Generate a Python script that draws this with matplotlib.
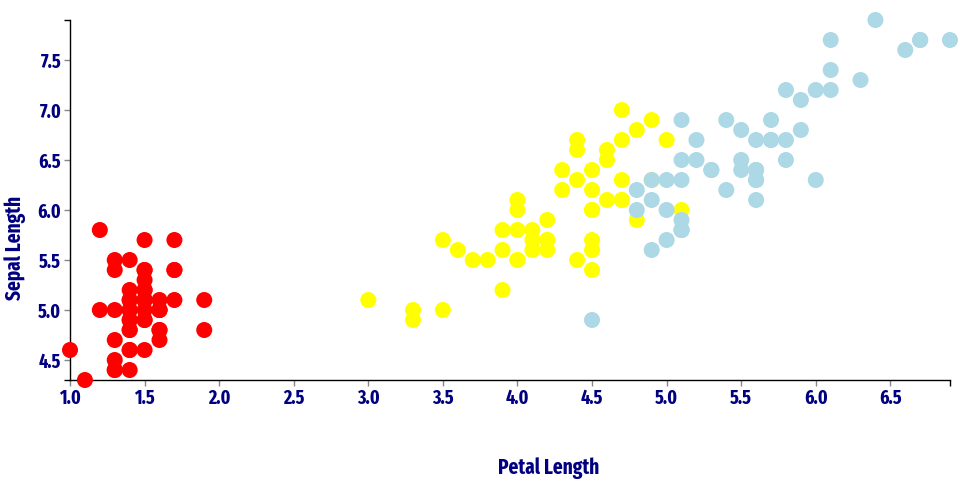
import matplotlib
matplotlib.use('Agg')
import matplotlib.pyplot as plt
import numpy as np

# iris: petal length (x) vs sepal length (y), one list per species
setosa_petal = [1.4, 1.4, 1.3, 1.5, 1.4, 1.7, 1.4, 1.5, 1.4, 1.5,
                1.5, 1.6, 1.4, 1.1, 1.2, 1.5, 1.3, 1.4, 1.7, 1.5,
                1.7, 1.5, 1.0, 1.7, 1.9, 1.6, 1.6, 1.5, 1.4, 1.6,
                1.6, 1.5, 1.5, 1.4, 1.5, 1.2, 1.3, 1.4, 1.3, 1.5,
                1.3, 1.3, 1.3, 1.6, 1.9, 1.4, 1.6, 1.4, 1.5, 1.4]
setosa_sepal = [5.1, 4.9, 4.7, 4.6, 5.0, 5.4, 4.6, 5.0, 4.4, 4.9,
                5.4, 4.8, 4.8, 4.3, 5.8, 5.7, 5.4, 5.1, 5.7, 5.1,
                5.4, 5.1, 4.6, 5.1, 4.8, 5.0, 5.0, 5.2, 5.2, 4.7,
                4.8, 5.4, 5.2, 5.5, 4.9, 5.0, 5.5, 4.9, 4.4, 5.1,
                5.0, 4.5, 4.4, 5.0, 5.1, 4.8, 5.1, 4.6, 5.3, 5.0]

versicolor_petal = [4.7, 4.5, 4.9, 4.0, 4.6, 4.5, 4.7, 3.3, 4.6, 3.9,
                    3.5, 4.2, 4.0, 4.7, 3.6, 4.4, 4.5, 4.1, 4.5, 3.9,
                    4.8, 4.0, 4.9, 4.7, 4.3, 4.4, 4.8, 5.0, 4.5, 3.5,
                    3.8, 3.7, 3.9, 5.1, 4.5, 4.5, 4.7, 4.4, 4.1, 4.0,
                    4.4, 4.6, 4.0, 3.3, 4.2, 4.2, 4.2, 4.3, 3.0, 4.1]
versicolor_sepal = [7.0, 6.4, 6.9, 5.5, 6.5, 5.7, 6.3, 4.9, 6.6, 5.2,
                    5.0, 5.9, 6.0, 6.1, 5.6, 6.7, 5.6, 5.8, 6.2, 5.6,
                    5.9, 6.1, 6.3, 6.1, 6.4, 6.6, 6.8, 6.7, 6.0, 5.7,
                    5.5, 5.5, 5.8, 6.0, 5.4, 6.0, 6.7, 6.3, 5.6, 5.5,
                    5.5, 6.1, 5.8, 5.0, 5.6, 5.7, 5.7, 6.2, 5.1, 5.7]

virginica_petal = [6.0, 5.1, 5.9, 5.6, 5.8, 6.6, 4.5, 6.3, 5.8, 6.1,
                   5.1, 5.3, 5.5, 5.0, 5.1, 5.3, 5.5, 6.7, 6.9, 5.0,
                   5.7, 4.9, 6.7, 4.9, 5.7, 6.0, 4.8, 4.9, 5.6, 5.8,
                   6.1, 6.4, 5.6, 5.1, 5.6, 6.1, 5.6, 5.5, 4.8, 5.4,
                   5.6, 5.1, 5.1, 5.9, 5.7, 5.2, 5.0, 5.2, 5.4, 5.1]
virginica_sepal = [6.3, 5.8, 7.1, 6.3, 6.5, 7.6, 4.9, 7.3, 6.7, 7.2,
                   6.5, 6.4, 6.8, 5.7, 5.8, 6.4, 6.5, 7.7, 7.7, 6.0,
                   6.9, 5.6, 7.7, 6.3, 6.7, 7.2, 6.2, 6.1, 6.4, 7.2,
                   7.4, 7.9, 6.4, 6.3, 6.1, 7.7, 6.3, 6.4, 6.0, 6.9,
                   6.7, 6.9, 5.8, 6.8, 6.7, 6.7, 6.3, 6.5, 6.2, 5.9]

species_colors = ['red', 'yellow', 'lightblue']
x_ticks = [1.0, 1.5, 2.0, 2.5, 3.0, 3.5, 4.0, 4.5, 5.0, 5.5, 6.0, 6.5]
y_ticks = [4.5, 5.0, 5.5, 6.0, 6.5, 7.0, 7.5]

FONT = ['Fira Sans Extra Condensed', 'Fira Sans Condensed', 'DejaVu Sans']
TXT = '#000080'

petal = np.concatenate([setosa_petal, versicolor_petal, virginica_petal])
sepal = np.concatenate([setosa_sepal, versicolor_sepal, virginica_sepal])
cols = np.repeat(species_colors, [len(setosa_petal), len(versicolor_petal), len(virginica_petal)])

fig = plt.figure(figsize=(9.6, 5.0), dpi=100)
ax = fig.add_axes([70/960, 1-380/500, 880/960, 360/500])

ax.scatter(petal, sepal, c=cols, s=133, linewidths=0, clip_on=False, zorder=3)

xmin, xmax = min(petal), max(petal)
ymin, ymax = min(sepal), max(sepal)
ax.set_xlim(xmin, xmax)
ax.set_ylim(ymin, ymax)

for s in ['top', 'right']:
	ax.spines[s].set_visible(False)
for s in ['left', 'bottom']:
	ax.spines[s].set_linewidth(1)
	ax.spines[s].set_color('black')

ax.set_xticks(x_ticks)
ax.set_xticklabels(['%.1f' % v for v in x_ticks])
ax.set_yticks(y_ticks)
ax.set_yticklabels(['%.1f' % v for v in y_ticks])
# outer ticks at the domain ends
ax.set_xticks([xmin, xmax], minor=True)
ax.set_yticks([ymin, ymax], minor=True)
ax.tick_params(which='major', length=4.3, width=1, color='#888888', pad=2,
	labelsize=14, labelcolor=TXT)
ax.tick_params(which='minor', length=4.3, width=1, color='black')
for lab in ax.get_xticklabels() + ax.get_yticklabels():
	lab.set_family(FONT)
	lab.set_fontweight('bold')

fig.text(15/960, 1-248/500, 'Sepal Length', rotation=90, ha='center', va='center',
	fontsize=15, fontweight='bold', color=TXT, family=FONT)
fig.text(549/960, 1-468/500, 'Petal Length', ha='center', va='center',
	fontsize=15, fontweight='bold', color=TXT, family=FONT)

fig.savefig('out.png', dpi=100)
